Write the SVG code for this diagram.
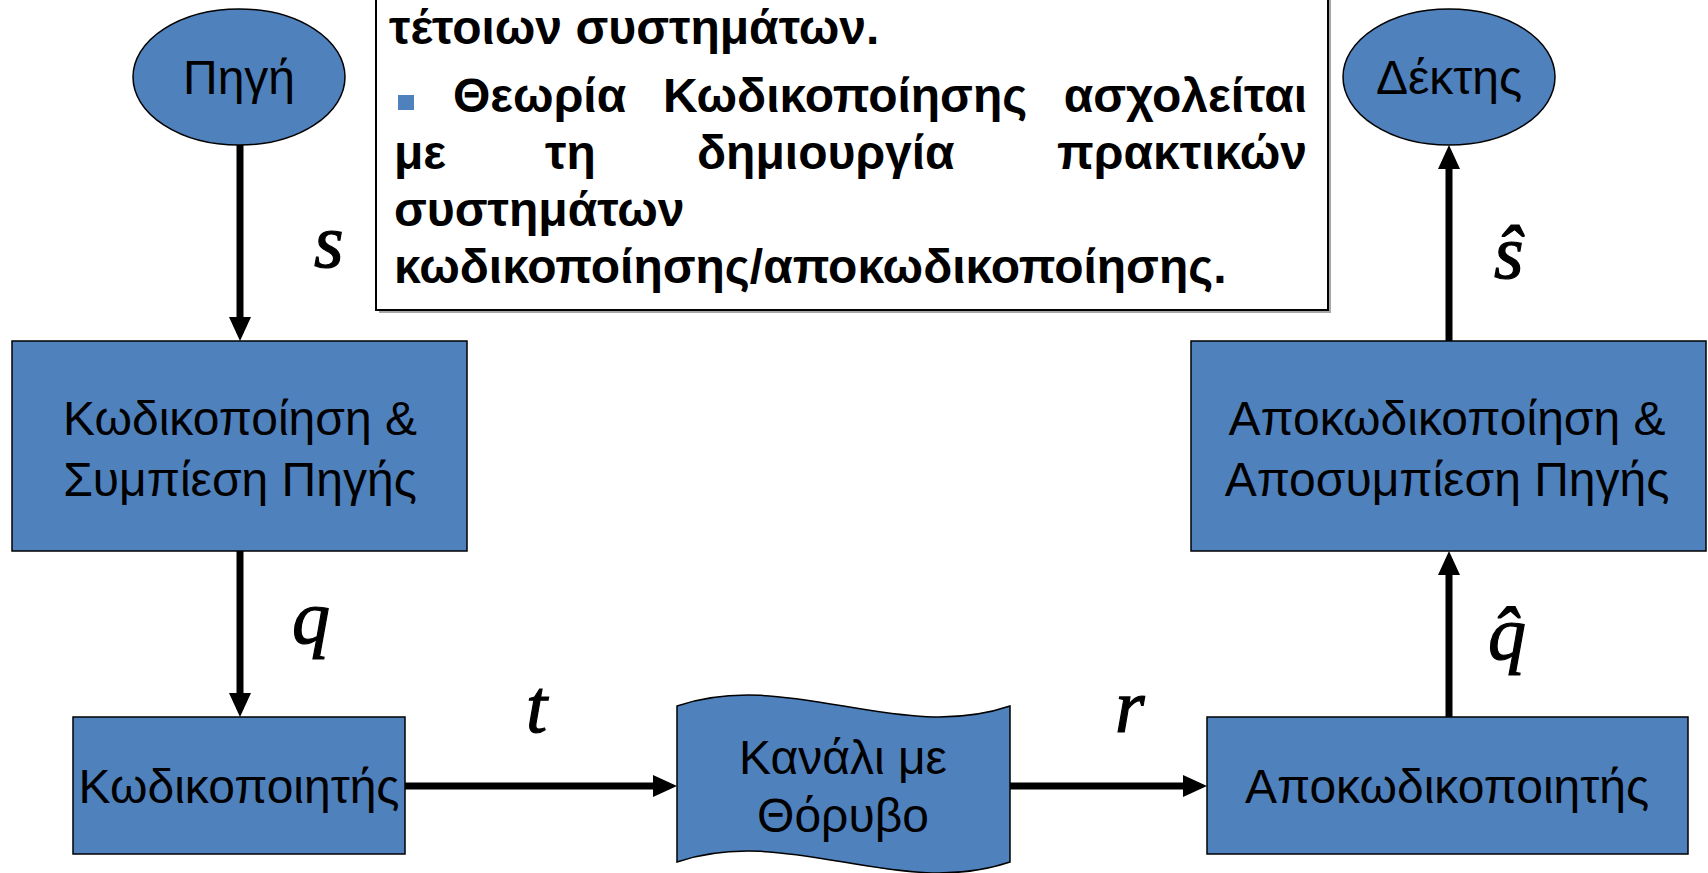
<svg xmlns="http://www.w3.org/2000/svg" width="1708" height="873" viewBox="0 0 1708 873">
<style>
.node{fill:#4F81BD;stroke:#000;stroke-width:1.5}
.lbl{font-family:"Liberation Sans",Arial,sans-serif;font-size:48px;fill:#000;text-anchor:middle}
.bt{font-family:"Liberation Sans",Arial,sans-serif;font-weight:bold;font-size:48px;fill:#000}
.conn{fill:none;stroke:#000;stroke-width:7}
.math{font-family:"Liberation Serif","DejaVu Serif",serif;font-style:italic;font-size:76px;fill:#000;stroke:#000;stroke-width:1.2}
</style>
<defs>
<marker id="arr" markerUnits="userSpaceOnUse" markerWidth="24" markerHeight="22" viewBox="0 0 24 22" refX="16" refY="11" orient="auto">
<path d="M0,0 L24,11 L0,22 z" fill="#000"/>
</marker>
</defs>
<rect width="1708" height="873" fill="#fff"/>
<g id="textbox">
<rect x="379" y="-2" width="952" height="315" fill="#a6a6a6"/>
<rect x="376" y="-5" width="952" height="315" fill="#fff" stroke="#000" stroke-width="2"/>
<text class="bt" x="389" y="44">τέτοιων συστημάτων.</text>
<rect x="398" y="95" width="16" height="15" fill="#4F81BD"/>
<text class="bt" x="453" y="112">Θεωρία</text>
<text class="bt" x="663" y="112">Κωδικοποίησης</text>
<text class="bt" x="1307" y="112" text-anchor="end">ασχολείται</text>
<text class="bt" x="394" y="169">με</text>
<text class="bt" x="545" y="169">τη</text>
<text class="bt" x="697" y="169">δημιουργία</text>
<text class="bt" x="1307" y="169" text-anchor="end">πρακτικών</text>
<text class="bt" x="394" y="226">συστημάτων</text>
<text class="bt" x="394" y="283">κωδικοποίησης/αποκωδικοποίησης.</text>
</g>
<g id="connectors">
<path class="conn" d="M240,145 V333" marker-end="url(#arr)"/>
<path class="conn" d="M240,551 V709" marker-end="url(#arr)"/>
<path class="conn" d="M405,786 H669" marker-end="url(#arr)"/>
<path class="conn" d="M1010,786 H1199" marker-end="url(#arr)"/>
<path class="conn" d="M1449,717 V559" marker-end="url(#arr)"/>
<path class="conn" d="M1449,341 V153" marker-end="url(#arr)"/>
<text class="math" x="314" y="267">s</text>
<text class="math" x="292" y="643">q</text>
<text class="math" x="526" y="732">t</text>
<text class="math" x="1115" y="732">r</text>
<text class="math" x="1494" y="278">ŝ</text>
<text class="math" x="1488" y="659">q̂</text>
</g>
<g id="src">
<ellipse class="node" cx="239" cy="77" rx="106" ry="68"/>
<text class="lbl" x="239" y="94">Πηγή</text>
</g>
<g id="dst">
<ellipse class="node" cx="1449" cy="77" rx="106" ry="68"/>
<text class="lbl" x="1449" y="94">Δέκτης</text>
</g>
<g id="srcenc">
<rect class="node" x="12" y="341" width="455" height="210"/>
<text class="lbl" x="240" y="435">Κωδικοποίηση &amp;</text>
<text class="lbl" x="240" y="496">Συμπίεση Πηγής</text>
</g>
<g id="enc">
<rect class="node" x="73" y="717" width="332" height="137"/>
<text class="lbl" x="239" y="803">Κωδικοποιητής</text>
</g>
<g id="channel">
<path class="node" d="M677,706 C788,668 899,744 1010,706 V862 C899,900 788,824 677,862 Z"/>
<text class="lbl" x="843" y="774">Κανάλι με</text>
<text class="lbl" x="843" y="832">Θόρυβο</text>
</g>
<g id="dec">
<rect class="node" x="1207" y="717" width="481" height="137"/>
<text class="lbl" x="1447" y="803">Αποκωδικοποιητής</text>
</g>
<g id="srcdec">
<rect class="node" x="1191" y="341" width="515" height="210"/>
<text class="lbl" x="1447" y="435">Αποκωδικοποίηση &amp;</text>
<text class="lbl" x="1447" y="496">Αποσυμπίεση Πηγής</text>
</g>
</svg>
